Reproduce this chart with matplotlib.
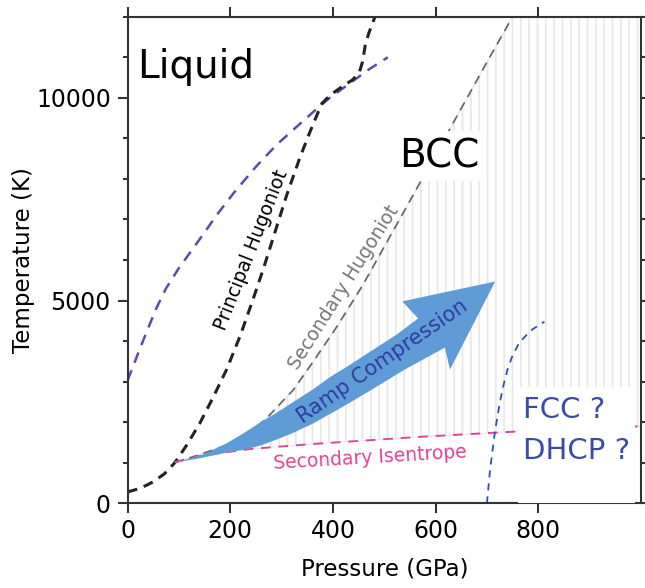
import matplotlib
matplotlib.use("Agg")
import matplotlib.pyplot as plt
from matplotlib.patches import Polygon, Rectangle

# 相圖資料
melt_p = [0, 30, 55, 75, 100, 141, 175, 206, 250, 291, 335, 375, 394, 430, 470, 507]
melt_t = [3030, 4000, 4780, 5300, 5800, 6520, 7130, 7640, 8300, 8850, 9350, 9800, 10000, 10330, 10700, 11000]

hug1_p = [0, 25, 50, 72, 92, 116, 141, 167, 193, 220, 245, 265, 290, 310, 335, 355, 378, 394,
          415, 439, 452, 458, 463, 470, 482]
hug1_t = [280, 370, 530, 730, 1000, 1450, 1980, 2620, 3300, 4150, 5050, 5800, 6800, 7600, 8500,
          9150, 9850, 10060, 10250, 10450, 10650, 10900, 11300, 11600, 12000]

hug2_p = [92, 140, 190, 232, 271, 323, 362, 410, 459, 505, 550, 600, 650, 700, 750]
hug2_t = [1000, 1200, 1420, 1680, 2100, 2800, 3500, 4400, 5400, 6440, 7460, 8600, 9740, 10880, 12000]

isen_p = [92, 141, 239, 368, 570, 712, 758, 1000]
isen_t = [1020, 1170, 1340, 1470, 1640, 1740, 1770, 1900]

fcc_p = [700, 706, 716, 725, 732, 740, 750, 763, 785, 812]
fcc_t = [0, 820, 1810, 2480, 2900, 3300, 3650, 3960, 4260, 4480]

# 斜坡壓縮箭頭外框（上緣 → 箭頭 → 下緣）
arrow_p = [92, 120, 150, 193, 225, 258, 290, 323, 360, 394, 430, 470, 524, 566,
           535, 716, 628, 618,
           540, 470, 430, 394, 360, 323, 290, 258, 225, 193, 140]
arrow_t = [1000, 1100, 1220, 1480, 1720, 1990, 2230, 2500, 2800, 3110, 3390, 3720, 4160, 4560,
           4980, 5470, 3300, 3840,
           3300, 2760, 2460, 2200, 1960, 1740, 1570, 1420, 1320, 1250, 1110]

x_ticks = [0, 200, 400, 600, 800]
y_ticks = [0, 5000, 10000]

plt.rcParams["font.family"] = ["DejaVu Sans"]
plt.rcParams["hatch.linewidth"] = 1.3

fig = plt.figure(figsize=(6.45, 5.88), dpi=100)
ax = fig.add_axes([0.1977, 0.144, 0.7961, 0.8276])
ax.set_xlim(0, 1000)
ax.set_ylim(0, 12000)

# BCC 區域的直線網紋
region_p = hug2_p + [1000, 1000] + isen_p[::-1]
region_t = hug2_t + [12000, isen_t[-1]] + isen_t[::-1]
ax.add_patch(Polygon(list(zip(region_p, region_t)), closed=True, facecolor="none",
                     edgecolor="#e8e8e8", hatch="||", linewidth=0.8, zorder=1))

ax.plot(melt_p, melt_t, color="#6547a8", lw=1.8, dashes=(4.4, 3.2), zorder=2)
ax.plot(hug1_p, hug1_t, color="#222222", lw=2.2, dashes=(3.3, 2.3), zorder=2)
ax.plot(hug2_p, hug2_t, color="#666666", lw=1.25, dashes=(5.2, 3.5), zorder=2)
ax.plot(isen_p, isen_t, color="#e0449a", lw=1.4, dashes=(5, 4), zorder=2)
ax.plot(fcc_p, fcc_t, color="#3050b0", lw=1.3, dashes=(3.9, 3.3), zorder=2)

ax.add_patch(Polygon(list(zip(arrow_p, arrow_t)), closed=True, facecolor="#5f9bd6",
                     edgecolor="none", zorder=3))

# FCC/DHCP 文字區塊的白底
ax.add_patch(Rectangle((0.76, 0), 0.228, 0.239, transform=ax.transAxes,
                       facecolor="white", edgecolor="none", zorder=3.5))

ax.text(18.5, 10488, "Liquid", fontsize=28, ha="left", va="baseline", zorder=5)
ax.text(606.6, 8293, "BCC", fontsize=28, ha="center", va="baseline", zorder=5,
        bbox=dict(facecolor="white", edgecolor="none", pad=4.5))
ax.text(770, 2103, "FCC ?", fontsize=21, color="#3a4aa5", ha="left", va="baseline", zorder=5)
ax.text(770, 1092, "DHCP ?", fontsize=21, color="#3a4aa5", ha="left", va="baseline", zorder=5)
ax.text(242, 6236, "Principal Hugoniot", fontsize=13.5, rotation=68.5,
        ha="center", va="center", zorder=5)
ax.text(421.6, 5310, "Secondary Hugoniot", fontsize=13.5, color="#777777", rotation=57.7,
        ha="center", va="center", zorder=5)
ax.text(496, 3490, "Ramp Compression", fontsize=15, color="#2e3d9a", rotation=34.6,
        ha="center", va="center", zorder=5)
ax.text(472, 1117, "Secondary Isentrope", fontsize=13.5, color="#e0449a", rotation=3.4,
        ha="center", va="center", zorder=5)

ax.set_xticks(x_ticks)
ax.set_yticks(y_ticks)
ax.set_yticks(range(0, 12001, 1000), minor=True)
ax.tick_params(axis="both", which="major", labelsize=17, direction="out", length=7, width=1.5,
               color="#333333")
ax.tick_params(axis="x", which="both", top=True, pad=4)
ax.tick_params(axis="y", which="both", right=True, pad=5)
ax.tick_params(axis="y", which="minor", length=3.5, width=1.5, color="#333333", direction="out")

for s in ax.spines.values():
    s.set_linewidth(1.5)
    s.set_color("#333333")

ax.set_xlabel("Pressure (GPa)", fontsize=16.5)
ax.set_ylabel("Temperature (K)", fontsize=16.5)
ax.xaxis.set_label_coords(0.5, -0.112)
ax.yaxis.set_label_coords(-0.18, 0.5)
ax.xaxis.label.set_va("top")

fig.savefig("out.png", dpi=100)
